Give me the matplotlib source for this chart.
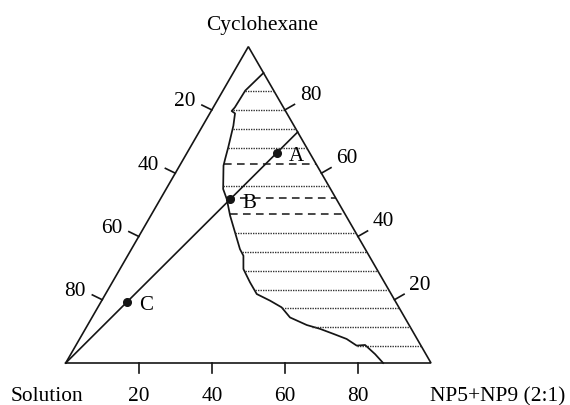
import numpy as np
import matplotlib
matplotlib.use("Agg")
import matplotlib.pyplot as plt

plt.rcParams['font.family'] = ['Liberation Serif', 'DejaVu Serif']

# Phase boundary, wt% of NP5+NP9 (2:1) and of cyclohexane
curve_np = [8.3, 6.1, 5.9, 5.6, 6.9, 8.4, 10.4, 11.4, 12.0, 15.6, 18.2, 21.7,
            25.7, 29.7, 31.7, 33.8, 37.7, 41.4, 46.1, 50.3, 54.2, 60.0, 64.2,
            68.7, 73.1, 76.9, 79.1, 83.3, 86.9]
curve_cyc = [91.7, 86.1, 80.8, 79.65, 78.9, 75.0, 68.2, 64.5, 62.4, 55.0, 51.8,
             46.6, 41.3, 36.0, 33.9, 29.7, 25.5, 21.8, 19.7, 17.6, 14.4, 12.0,
             10.8, 9.2, 7.6, 5.5, 5.7, 2.8, 0.0]

# Tie lines across the two-phase region (cyclohexane wt%)
dotted_levels = [86, 80, 74, 68, 56, 41, 35, 29, 23, 17.5, 11.5, 5.5]
dashed_levels = [63, 52, 47]

# Dilution line starting at the solution corner
dilution_np = [0, 27]
dilution_cyc = [0, 73]

# Sample compositions
point_names = ['A', 'B', 'C']
point_np = [24.5, 19.0, 7.1]
point_cyc = [66.5, 51.8, 19.3]

tick_values = [20, 40, 60, 80]

H = np.sqrt(3) / 2
PX = 365.3  # pixels per unit side length


def to_xy(np_pct, cyc_pct):
    n = np.asarray(np_pct, float) / 100
    c = np.asarray(cyc_pct, float) / 100
    return n + c / 2, c * H


def px(dx, dy):
    return dx / PX, dy / PX


fig = plt.figure(figsize=(5.70, 4.06), dpi=100)
ax = fig.add_axes([0, 0, 1, 1])
ax.set_xlim(-65.7 / PX, (570 - 65.7) / PX)
ax.set_ylim(-(406 - 364) / PX, 364 / PX)
ax.set_aspect('equal')
ax.axis('off')

ink = '#151515'
lw = 1.2

# Triangle frame
tx, ty = to_xy([0, 100, 0, 0], [0, 0, 100, 0])
ax.plot(tx, ty, color=ink, lw=lw, solid_joinstyle='miter')

# Phase boundary
cx, cy = to_xy(curve_np, curve_cyc)
ax.plot(cx, cy, color=ink, lw=1.25)


def boundary_x(level):
    yl = level / 100 * H
    for i in range(len(cx) - 1):
        y0, y1 = cy[i], cy[i + 1]
        if (y0 - yl) * (y1 - yl) <= 0 and y0 != y1:
            t = (yl - y0) / (y1 - y0)
            return cx[i] + t * (cx[i + 1] - cx[i])
    return None


for levels, style, w, col in [(dotted_levels, (0, (1, 0.8)), 1.0, '#333333'),
                              (dashed_levels, (0, (5, 3.5)), 1.1, ink)]:
    for lv in levels:
        x0 = boundary_x(lv)
        x1 = 1 - lv / 200
        y = lv / 100 * H
        ax.plot([x0, x1], [y, y], color=col, lw=w, linestyle=style)

# Dilution line and samples
dx_, dy_ = to_xy(dilution_np, dilution_cyc)
ax.plot(dx_, dy_, color=ink, lw=lw)
pxs, pys = to_xy(point_np, point_cyc)
ax.plot(pxs, pys, 'o', color=ink, ms=5.5)
ox, oy = px(19.5, -3)
for name, x, y in zip(point_names, pxs, pys):
    ax.text(x + ox, y + oy, name, fontsize=15, ha='center', va='center')

fs = 15.4
# Bottom axis ticks (NP5+NP9)
for v in tick_values:
    x, y = to_xy(v, 0)
    ax.plot([x, x], [y, y - 10 / PX], color=ink, lw=lw)
    ax.text(x, -37 / PX, str(v), fontsize=fs, ha='center', va='baseline')

# Left edge ticks (solution)
ldir = np.array([-0.9, 0.44]); ldir /= np.linalg.norm(ldir)
for v in tick_values:
    x, y = to_xy(0, 100 - v)
    ax.plot([x, x + ldir[0] * 11 / PX], [y, y + ldir[1] * 11 / PX], color=ink, lw=lw)
    ax.text(x - 27 / PX, y + 9 / PX, str(v), fontsize=fs, ha='center', va='center')

# Right edge ticks (cyclohexane)
rdir = np.array([0.87, 0.5])
for v in tick_values:
    x, y = to_xy(100 - v, v)
    ax.plot([x, x + rdir[0] * 11 / PX], [y, y + rdir[1] * 11 / PX], color=ink, lw=lw)
    ax.text(x + 25.6 / PX, y + 15.5 / PX, str(v), fontsize=fs, ha='center', va='center')

# Corner labels
x, y = to_xy(0, 100)
ax.text(x + 14 / PX, 334 / PX, 'Cyclohexane', fontsize=fs, ha='center', va='baseline')
ax.text(-19 / PX, -37 / PX, 'Solution', fontsize=fs, ha='center', va='baseline')
ax.text(1 - 1 / PX, -37 / PX, 'NP5+NP9 (2:1)', fontsize=fs, ha='left', va='baseline')

fig.savefig('out.png', dpi=100)
